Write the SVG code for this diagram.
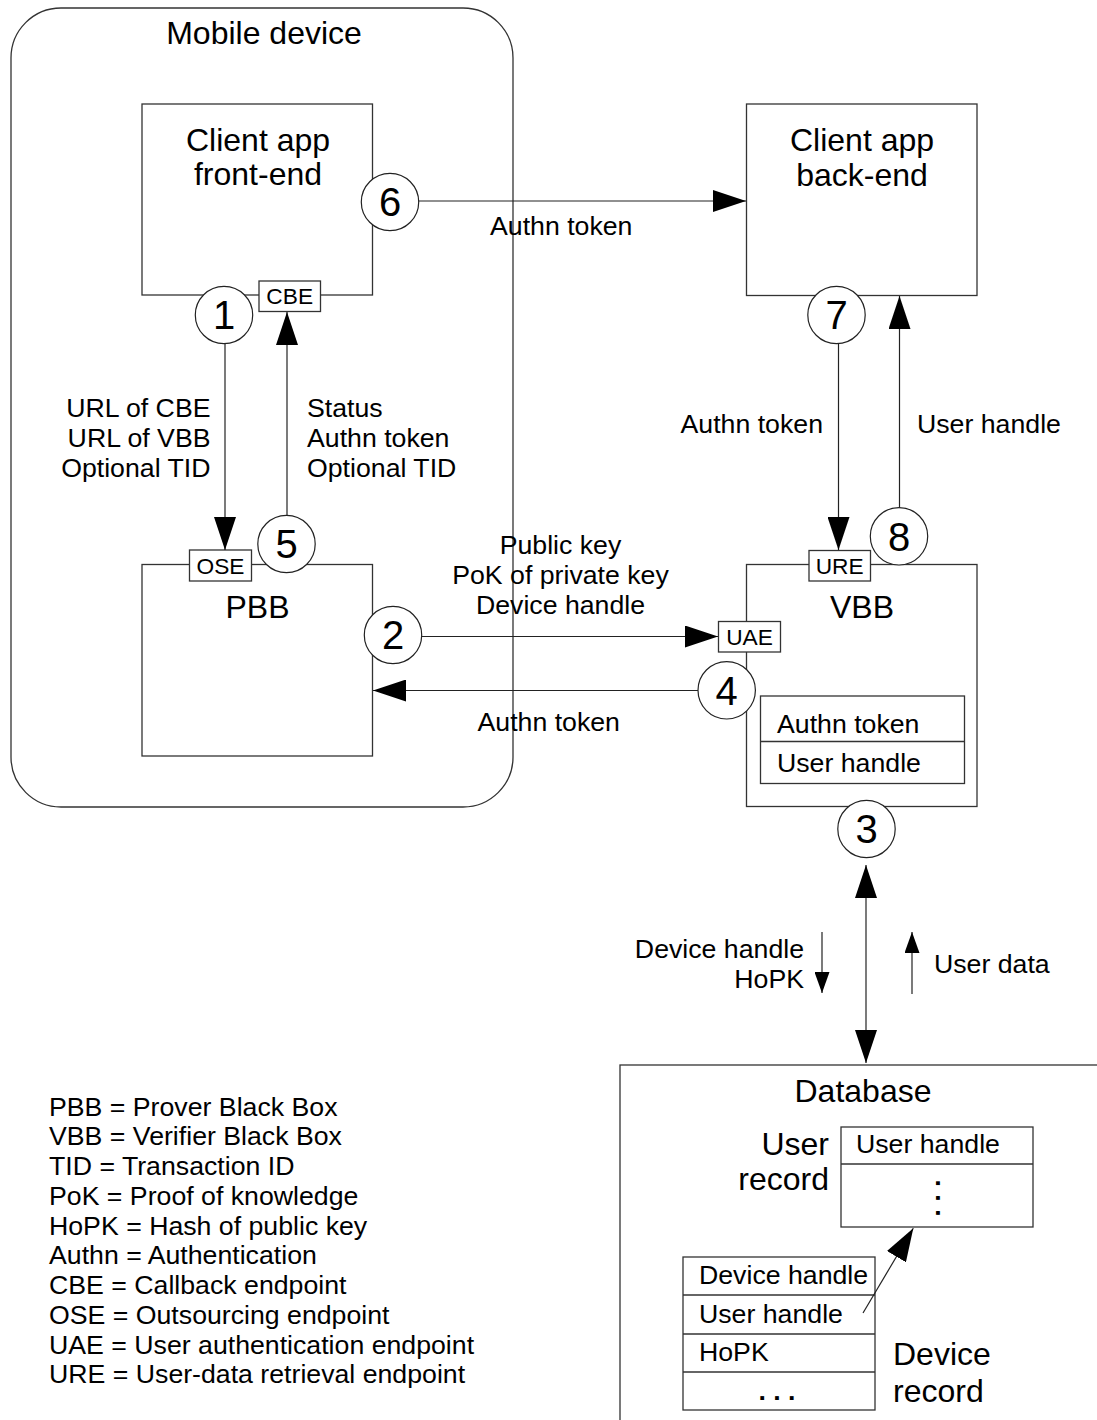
<svg xmlns="http://www.w3.org/2000/svg" width="1097" height="1420" viewBox="0 0 1097 1420">
  <defs>
    <style>
      .t { font-family: "Liberation Sans", Arial, Helvetica, sans-serif; fill: #000; }
      .lg { font-size: 32px; }
      .md { font-size: 26.7px; }
      .sm { font-size: 22.7px; }
      .num { font-size: 40px; text-anchor: middle; }
      .mid { text-anchor: middle; }
      .end { text-anchor: end; }
      .dots { font-weight: bold; }
      .box { fill: #fff; stroke: #333; stroke-width: 1.3; }
      .frame { fill: none; stroke: #333; stroke-width: 1.3; }
      .sep { fill: none; stroke: #333; stroke-width: 1.3; }
      .ep { fill: #fff; stroke: #333; stroke-width: 1.3; }
      .step { fill: #fff; stroke: #222; stroke-width: 1.2; }
      .wire { fill: none; stroke: #222; stroke-width: 1.2; }
    </style>
    <marker id="head" markerUnits="userSpaceOnUse" markerWidth="33" markerHeight="22" refX="33" refY="11" orient="auto-start-reverse" viewBox="0 0 33 22">
      <path d="M0,0 L33,11 L0,22 Z" fill="#000"/>
    </marker>
    <marker id="headSmall" markerUnits="userSpaceOnUse" markerWidth="21" markerHeight="15" refX="21" refY="7.5" orient="auto" viewBox="0 0 21 15">
      <path d="M0,0 L21,7.5 L0,15 Z" fill="#000"/>
    </marker>
  </defs>

  <rect width="1097" height="1420" fill="#fff"/>

  <!-- Mobile device container -->
  <g id="mobile-device">
    <rect class="frame" x="11" y="8" width="502" height="799" rx="50" ry="50"/>
    <text class="t lg mid" x="264" y="44">Mobile device</text>
  </g>

  <!-- Client app front-end -->
  <g id="front-end">
    <rect class="box" x="142" y="104" width="230.5" height="191"/>
    <text class="t lg mid" x="258" y="151">Client app</text>
    <text class="t lg mid" x="258" y="185">front-end</text>
    <rect class="ep" x="259" y="281" width="61.5" height="30.5"/>
    <text class="t sm mid" x="289.7" y="304">CBE</text>
  </g>

  <!-- Client app back-end -->
  <g id="back-end">
    <rect class="box" x="746.5" y="104" width="230.5" height="191.5"/>
    <text class="t lg mid" x="862" y="151">Client app</text>
    <text class="t lg mid" x="862" y="186">back-end</text>
  </g>

  <!-- Prover Black Box -->
  <g id="pbb">
    <rect class="box" x="142" y="564.5" width="230.5" height="191.5"/>
    <text class="t lg mid" x="257.5" y="618">PBB</text>
    <rect class="ep" x="189.5" y="550" width="62" height="31"/>
    <text class="t sm mid" x="220.5" y="573.5">OSE</text>
  </g>

  <!-- Verifier Black Box -->
  <g id="vbb">
    <rect class="box" x="746.5" y="564.5" width="230.5" height="242"/>
    <text class="t lg mid" x="862" y="618">VBB</text>
    <rect class="ep" x="809" y="550.5" width="61.5" height="30.5"/>
    <text class="t sm mid" x="839.7" y="574">URE</text>
    <rect class="ep" x="718.5" y="621.5" width="62" height="30.5"/>
    <text class="t sm mid" x="749.5" y="645">UAE</text>
    <rect class="box" x="760.5" y="696" width="204" height="87.5"/>
    <line class="sep" x1="760.5" y1="741.5" x2="964.5" y2="741.5"/>
    <text class="t md" x="777" y="732.5">Authn token</text>
    <text class="t md" x="777" y="771.5">User handle</text>
  </g>

  <!-- Database -->
  <g id="database">
    <rect class="box" x="620" y="1065" width="520" height="400"/>
    <text class="t lg mid" x="863" y="1102">Database</text>
    <text class="t lg end" x="829" y="1155">User</text>
    <text class="t lg end" x="829" y="1190">record</text>
    <rect class="box" x="841" y="1127" width="192" height="100"/>
    <line class="sep" x1="841" y1="1164" x2="1033" y2="1164"/>
    <text class="t md" x="856" y="1153">User handle</text>
    <text class="t md mid dots" transform="translate(935.5,1198) rotate(90)">. . .</text>
    <rect class="box" x="683" y="1257" width="192" height="153"/>
    <line class="sep" x1="683" y1="1295" x2="875" y2="1295"/>
    <line class="sep" x1="683" y1="1334" x2="875" y2="1334"/>
    <line class="sep" x1="683" y1="1372" x2="875" y2="1372"/>
    <text class="t md" x="699" y="1284">Device handle</text>
    <text class="t md" x="699" y="1322.5">User handle</text>
    <text class="t md" x="699" y="1361">HoPK</text>
    <text class="t md mid dots" x="777" y="1400">. . .</text>
    <text class="t lg" x="893" y="1365">Device</text>
    <text class="t lg" x="893" y="1402">record</text>
  </g>

  <!-- Message flows -->
  <g id="connectors">
    <line class="wire" x1="419" y1="201" x2="746" y2="201" marker-end="url(#head)"/>
    <line class="wire" x1="225" y1="344" x2="225" y2="550" marker-end="url(#head)"/>
    <line class="wire" x1="287" y1="515" x2="287" y2="312" marker-end="url(#head)"/>
    <line class="wire" x1="422" y1="636.5" x2="718" y2="636.5" marker-end="url(#head)"/>
    <line class="wire" x1="698" y1="690.5" x2="373" y2="690.5" marker-end="url(#head)"/>
    <line class="wire" x1="838.5" y1="344" x2="838.5" y2="550" marker-end="url(#head)"/>
    <line class="wire" x1="899.5" y1="508" x2="899.5" y2="296" marker-end="url(#head)"/>
    <line class="wire" x1="866" y1="865" x2="866" y2="1063" marker-start="url(#head)" marker-end="url(#head)"/>
    <line class="wire" x1="822" y1="932" x2="822" y2="993" marker-end="url(#headSmall)"/>
    <line class="wire" x1="912" y1="994" x2="912" y2="932" marker-end="url(#headSmall)"/>
    <line class="wire" x1="863" y1="1313" x2="913.3" y2="1228.3" marker-end="url(#head)"/>
  </g>

  <!-- Step markers -->
  <g id="step-1"><circle class="step" cx="224" cy="315" r="28.7"/><text class="t num" x="224" y="329.3">1</text></g>
  <g id="step-2"><circle class="step" cx="393" cy="635" r="28.7"/><text class="t num" x="393" y="649.3">2</text></g>
  <g id="step-3"><circle class="step" cx="866.5" cy="829" r="28.7"/><text class="t num" x="866.5" y="843.3">3</text></g>
  <g id="step-4"><circle class="step" cx="726.7" cy="690.3" r="28.7"/><text class="t num" x="726.7" y="704.6">4</text></g>
  <g id="step-5"><circle class="step" cx="286.5" cy="544" r="28.7"/><text class="t num" x="286.5" y="558.3">5</text></g>
  <g id="step-6"><circle class="step" cx="390" cy="202" r="28.7"/><text class="t num" x="390" y="216.3">6</text></g>
  <g id="step-7"><circle class="step" cx="836.5" cy="315" r="28.7"/><text class="t num" x="836.5" y="329.3">7</text></g>
  <g id="step-8"><circle class="step" cx="899" cy="536.3" r="28.7"/><text class="t num" x="899" y="550.6">8</text></g>

  <!-- Message labels -->
  <g id="labels">
    <text class="t md" x="490" y="235">Authn token</text>
    <text class="t md end" x="210.5" y="417">URL of CBE</text>
    <text class="t md end" x="210.5" y="447">URL of VBB</text>
    <text class="t md end" x="210.5" y="477">Optional TID</text>
    <text class="t md" x="307" y="417">Status</text>
    <text class="t md" x="307" y="447">Authn token</text>
    <text class="t md" x="307" y="477">Optional TID</text>
    <text class="t md mid" x="560.5" y="554">Public key</text>
    <text class="t md mid" x="560.5" y="584">PoK of private key</text>
    <text class="t md mid" x="560.5" y="614">Device handle</text>
    <text class="t md" x="477.5" y="731">Authn token</text>
    <text class="t md end" x="823" y="433">Authn token</text>
    <text class="t md" x="917" y="433">User handle</text>
    <text class="t md end" x="804" y="958">Device handle</text>
    <text class="t md end" x="804" y="988">HoPK</text>
    <text class="t md" x="934" y="973">User data</text>
  </g>

  <!-- Abbreviations -->
  <g id="legend">
    <text class="t md" x="49" y="1115.5">PBB = Prover Black Box</text>
    <text class="t md" x="49" y="1145.3">VBB = Verifier Black Box</text>
    <text class="t md" x="49" y="1175">TID = Transaction ID</text>
    <text class="t md" x="49" y="1204.8">PoK = Proof of knowledge</text>
    <text class="t md" x="49" y="1234.5">HoPK = Hash of public key</text>
    <text class="t md" x="49" y="1264.3">Authn = Authentication</text>
    <text class="t md" x="49" y="1294">CBE = Callback endpoint</text>
    <text class="t md" x="49" y="1323.8">OSE = Outsourcing endpoint</text>
    <text class="t md" x="49" y="1353.5">UAE = User authentication endpoint</text>
    <text class="t md" x="49" y="1383.3">URE = User-data retrieval endpoint</text>
  </g>
</svg>
